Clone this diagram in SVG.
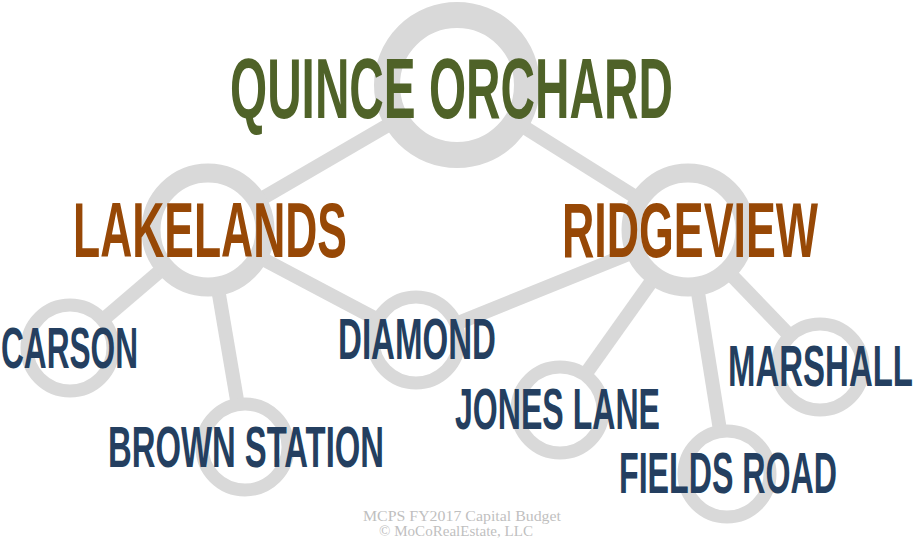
<svg xmlns="http://www.w3.org/2000/svg" width="918" height="545" viewBox="0 0 918 545">
<style>
.edge{stroke:#d9d9d9;stroke-width:14;stroke-linecap:butt}
.ring{fill:#ffffff;stroke:#d9d9d9}
.big{stroke-width:26}
.mid{stroke-width:19}
.small{stroke-width:13}
.lbl{font-family:"Liberation Sans Narrow","Liberation Sans","DejaVu Sans Condensed",sans-serif;font-weight:bold}
.green{fill:#4f6228}
.brown{fill:#974806}
.blue{fill:#243f60}
.foot{font-family:"Liberation Serif","DejaVu Serif",serif;font-size:14px;fill:#bfbfbf;text-anchor:middle}
</style>
<rect width="918" height="545" fill="#ffffff"/>
<g id="connectors">
<line class="edge" x1="457" y1="85" x2="208" y2="230"/>
<line class="edge" x1="457" y1="85" x2="688" y2="230"/>
<line class="edge" x1="208" y1="230" x2="70" y2="348"/>
<line class="edge" x1="208" y1="230" x2="245" y2="447"/>
<line class="edge" x1="208" y1="230" x2="416" y2="340"/>
<line class="edge" x1="416" y1="340" x2="688" y2="230"/>
<line class="edge" x1="688" y1="230" x2="560" y2="410"/>
<line class="edge" x1="688" y1="230" x2="727" y2="474"/>
<line class="edge" x1="688" y1="230" x2="820" y2="367"/>
</g>
<g id="quince-orchard">
<circle class="ring big" cx="457" cy="85" r="70"/>
<text class="lbl green" x="230" y="118" font-size="85" textLength="443" lengthAdjust="spacingAndGlyphs">QUINCE ORCHARD</text>
</g>
<g id="lakelands">
<circle class="ring mid" cx="208" cy="230" r="57"/>
<text class="lbl brown" x="73" y="257" font-size="77" textLength="274" lengthAdjust="spacingAndGlyphs">LAKELANDS</text>
</g>
<g id="ridgeview">
<circle class="ring mid" cx="688" cy="230" r="57"/>
<text class="lbl brown" x="562" y="257" font-size="77" textLength="256" lengthAdjust="spacingAndGlyphs">RIDGEVIEW</text>
</g>
<g id="carson">
<circle class="ring small" cx="70" cy="348" r="43"/>
<text class="lbl blue" x="1" y="368" font-size="57" textLength="137" lengthAdjust="spacingAndGlyphs">CARSON</text>
</g>
<g id="diamond">
<circle class="ring small" cx="416" cy="340" r="43"/>
<text class="lbl blue" x="338" y="359" font-size="57" textLength="158" lengthAdjust="spacingAndGlyphs">DIAMOND</text>
</g>
<g id="brown-station">
<circle class="ring small" cx="245" cy="447" r="43"/>
<text class="lbl blue" x="108" y="467" font-size="57" textLength="276" lengthAdjust="spacingAndGlyphs">BROWN STATION</text>
</g>
<g id="jones-lane">
<circle class="ring small" cx="560" cy="410" r="43"/>
<text class="lbl blue" x="455" y="429" font-size="57" textLength="205" lengthAdjust="spacingAndGlyphs">JONES LANE</text>
</g>
<g id="marshall">
<circle class="ring small" cx="820" cy="367" r="43"/>
<text class="lbl blue" x="728" y="386" font-size="57" textLength="185" lengthAdjust="spacingAndGlyphs">MARSHALL</text>
</g>
<g id="fields-road">
<circle class="ring small" cx="727" cy="474" r="43"/>
<text class="lbl blue" x="619" y="493" font-size="57" textLength="218" lengthAdjust="spacingAndGlyphs">FIELDS ROAD</text>
</g>
<g id="footer">
<text class="foot" x="462" y="521" textLength="198" lengthAdjust="spacingAndGlyphs">MCPS FY2017 Capital Budget</text>
<text class="foot" x="456" y="536" textLength="154" lengthAdjust="spacingAndGlyphs">© MoCoRealEstate, LLC</text>
</g>
</svg>
